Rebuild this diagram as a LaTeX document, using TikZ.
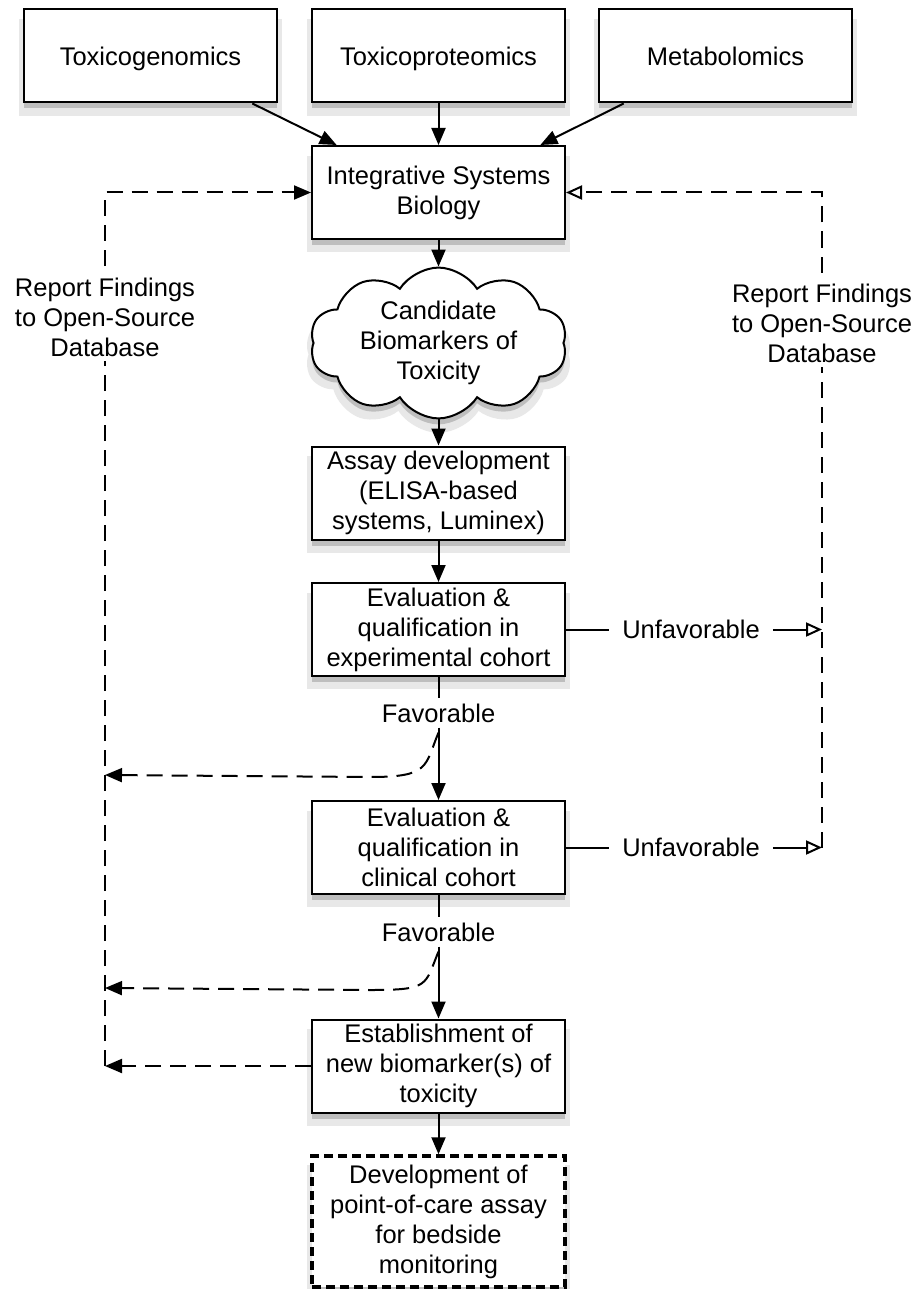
\documentclass[tikz,border=0pt]{standalone}
\usepackage{fontspec}
\setmainfont{Liberation Sans}
\usetikzlibrary{arrows.meta,shapes.symbols,shadows}

\begin{document}
\begin{tikzpicture}[x=1pt,y=-1pt,>={Triangle[length=17pt,width=14pt]},
 txt/.style={align=center,font=\fontsize{25.5}{30}\selectfont},
 shade/.style={drop shadow={shadow xshift=0pt,shadow yshift=-11pt,shadow scale=1.04,opacity=.18},
  drop shadow={shadow xshift=0pt,shadow yshift=-6pt,opacity=.4}},
 box/.style={txt,draw,line width=2pt,fill=white,minimum width=253pt,minimum height=93pt,inner sep=2pt,shade},
 lbl/.style={txt,fill=white,inner sep=5pt},
 flow/.style={line width=2pt},
 back/.style={line width=2pt,dash pattern=on 16pt off 9pt},
 hollow/.style={-{Triangle[open,length=16pt,width=14pt,fill=white]}}]
 \useasboundingbox (0,0) rectangle (918,1289);
 % sources
 \node[box,text depth=0pt] (tgen) at (150.5,56) {Toxicogenomics};
 \node[box,text depth=0pt] (tprot) at (438.5,56) {Toxicoproteomics};
 \node[box,text depth=0pt] (metab) at (725.5,56) {Metabolomics};
 \node[box] (isb) at (438.5,192.5) {Integrative Systems\\Biology};
 \node[cloud,draw,line width=2pt,fill=white,txt,shade,cloud puffs=10,cloud puff arc=115,aspect=1.9,
  inner sep=0pt,minimum width=257pt,minimum height=137pt] (cand) at (438.5,343) {Candidate\\Biomarkers of\\Toxicity};
 \node[box] (assay) at (438.5,493) {Assay development\\(ELISA-based\\systems, Luminex)};
 \node[box] (evalexp) at (438.5,629.5) {Evaluation \&\\qualification in\\experimental cohort};
 \node[lbl] (favexp) at (438.5,713) {Favorable};
 \node[box] (evalclin) at (438.5,847.5) {Evaluation \&\\qualification in\\clinical cohort};
 \node[lbl] (favclin) at (438.5,932) {Favorable};
 \node[box] (estab) at (438.5,1066) {Establishment of\\new biomarker(s) of\\toxicity};
 \node[box,minimum height=131pt,line width=3.5pt,dash pattern=on 9pt off 5pt] (poc) at (438.5,1221.5)
  {Development of\\point-of-care assay\\for bedside\\monitoring};
 \node[lbl,inner xsep=13pt] (unfexp) at (691,629.5) {Unfavorable};
 \node[lbl,inner xsep=13pt] (unfclin) at (691,847.5) {Unfavorable};
 \coordinate (rexp) at (822,629.5);
 \coordinate (rclin) at (822,847.5);
 \coordinate (lexp) at (105,775);
 \coordinate (lclin) at (105,988);
 \coordinate (lest) at (105,1066);
 % main flow
 \draw[flow,->] (tgen.-25) -- (isb.155);
 \draw[flow,->] (tprot) -- (isb);
 \draw[flow,->] (metab.205) -- (isb.25);
 \draw[flow,->] (isb) -- (cand);
 \draw[flow,->] (cand) -- (assay);
 \draw[flow,->] (assay) -- (evalexp);
 \draw[flow] (evalexp) -- (favexp);
 \draw[flow,->] (favexp) -- (evalclin);
 \draw[flow] (evalclin) -- (favclin);
 \draw[flow,->] (favclin) -- (estab);
 \draw[flow,->] (estab) -- (poc);
 % unfavorable
 \draw[flow] (evalexp) -- (unfexp);
 \draw[flow,hollow] (unfexp) -- (rexp);
 \draw[flow] (evalclin) -- (unfclin);
 \draw[flow,hollow] (unfclin) -- (rclin);
 \draw[back,hollow] (rclin) |- (isb);
 % favorable, report
 \draw[back,->] ([yshift=-5pt]favexp.south) .. controls +(-14,34) and +(60,0) .. (370,777) -- (lexp);
 \draw[back,->] ([yshift=-5pt]favclin.south) .. controls +(-14,34) and +(60,0) .. (370,990) -- (lclin);
 \draw[back,->] (estab) -- (lest);
 \draw[back,->] (lest) |- (isb);
 \node[lbl] (repl) at (105,317) {Report Findings\\to Open-Source\\Database};
 \node[lbl] (repr) at (822,323) {Report Findings\\to Open-Source\\Database};
\end{tikzpicture}
\end{document}
